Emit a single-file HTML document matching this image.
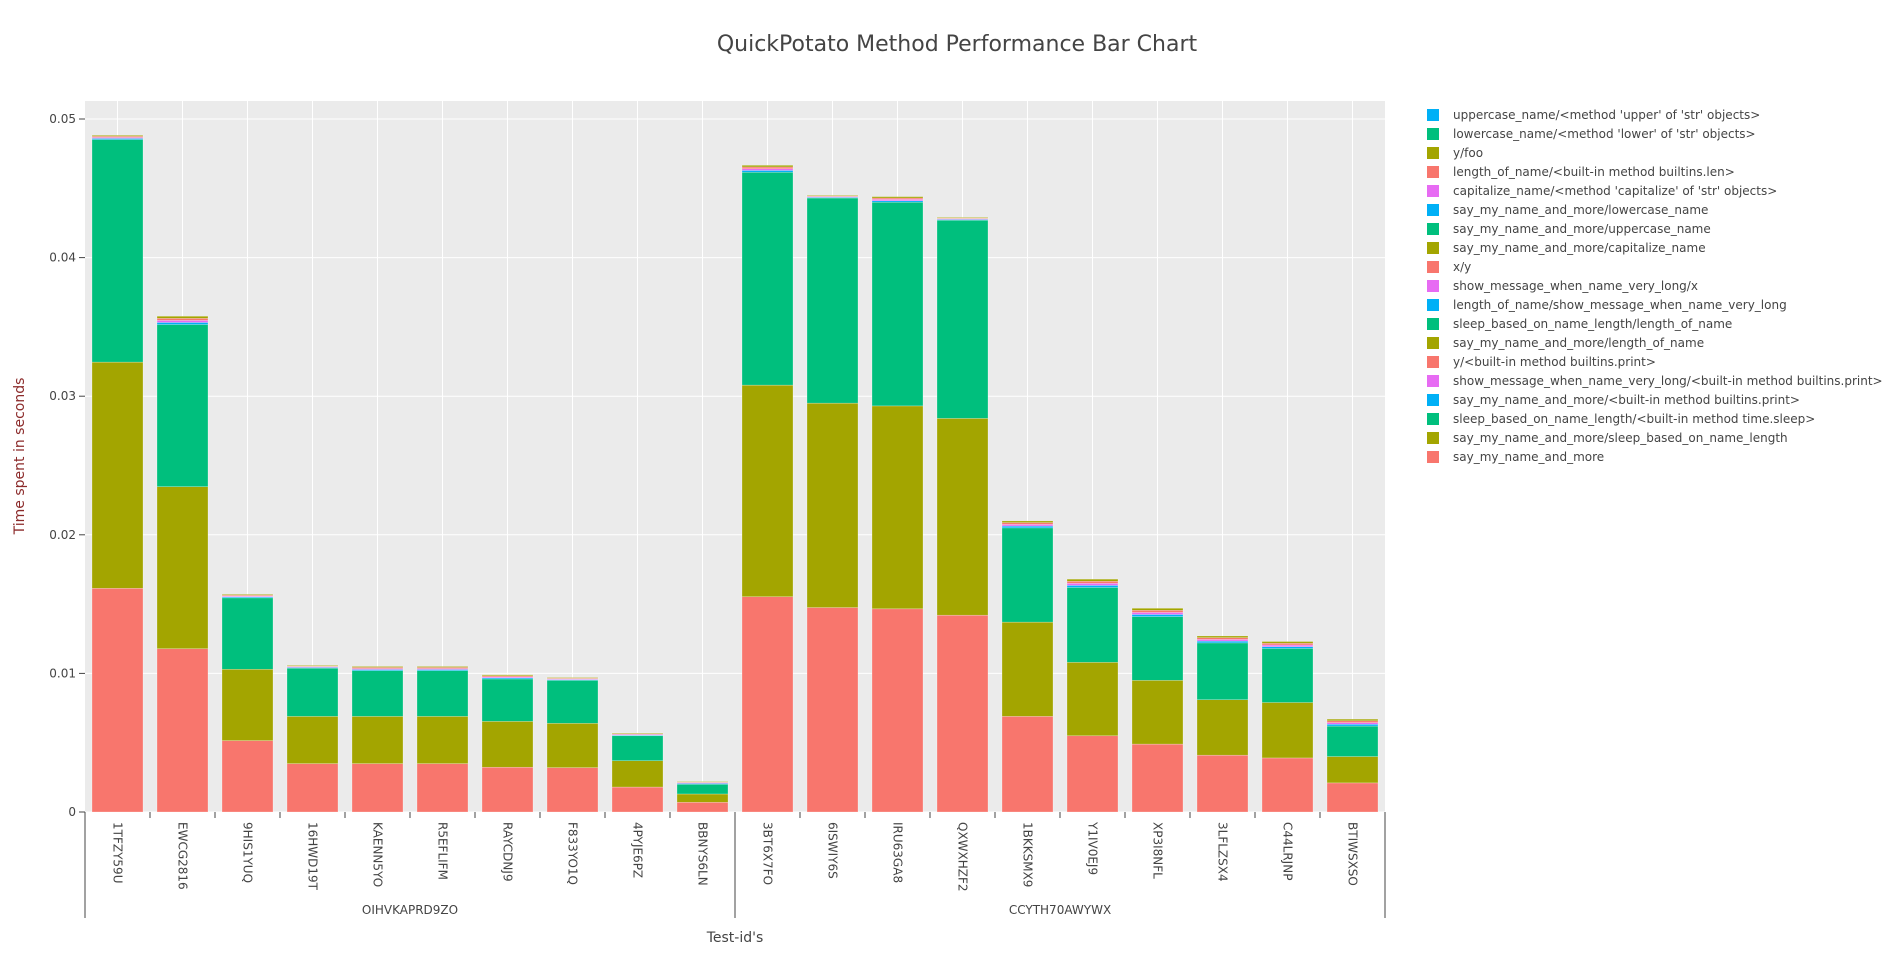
<!DOCTYPE html>
<html><head><meta charset="utf-8">
<style>
html,body{margin:0;padding:0;background:#fff;}
svg{display:block;font-family:"DejaVu Sans","Liberation Sans",sans-serif;}
</style></head>
<body>
<svg id="chart" width="1896" height="955" viewBox="0 0 1896 955">
<rect x="0" y="0" width="1896" height="955" fill="#fff"/>
<text x="957" y="51" text-anchor="middle" font-size="22" fill="#444">QuickPotato Method Performance Bar Chart</text>
<rect x="85" y="101" width="1300" height="711" fill="#EBEBEB"/>
<g id="grid"></g><g id="bars"></g><g id="axes"></g><g id="legend"></g>
<text transform="translate(24,456) rotate(-90)" text-anchor="middle" font-size="14" fill="#8B2A2A">Time spent in seconds</text>
<text x="735" y="942" text-anchor="middle" font-size="14" fill="#444">Test-id's</text>
</svg>
<script>
const categories = ["1TFZY59U","EWCG2816","9HIS1YUQ","16HWD19T","KAENN5YO","R5EFLIFM","RAYCDNJ9","F833YO1Q","4PYJE6PZ","BBNYS6LN","3BT6X7FO","6ISWIY6S","IRU63GA8","QXWXHZF2","1BKKSMX9","Y1IV0EJ9","XP3I8NFL","3LFLZSX4","C44LRJNP","BTIWSXSO"];
const groups = ["OIHVKAPRD9ZO","CCYTH70AWYWX"];
const groupSizes = [10,10];
const sayMyName = [0.01614,0.01178,0.00515,0.00349,0.00349,0.00349,0.00323,0.0032,0.0018,0.0007,0.01553,0.01475,0.01466,0.0142,0.0069,0.0055,0.0049,0.0041,0.0039,0.0021];
const sleepBased = [0.01632,0.01169,0.00515,0.00341,0.00341,0.00341,0.00331,0.0032,0.0019,0.0006,0.01527,0.01475,0.01464,0.0142,0.0068,0.0053,0.0046,0.004,0.004,0.0019];
const timeSleep = [0.01606,0.0117,0.00515,0.00348,0.0033,0.0033,0.00306,0.0031,0.0018,0.0007,0.01536,0.0148,0.0147,0.0143,0.0068,0.0054,0.0046,0.0041,0.0039,0.0022];
const tinyPrint = [0.00008,0.00015,0.00007,0.00005,0.00008,0.00008,0.00008,0.00005,0.00005,0.00006,0.00013,0.00005,0.0001,0.00005,0.00013,0.00015,0.00015,0.00013,0.00013,0.00013];
const tinyShow = [0.00007,0.00015,0.00006,0.00005,0.00007,0.00007,0.00007,0.00005,0.00005,0.00005,0.00012,0.00005,0.0001,0.00005,0.00012,0.00015,0.00015,0.00012,0.00012,0.00012];
const tinyYPrint = [0.00008,0.00015,0.00006,0.00005,0.00008,0.00008,0.00008,0.00005,0.00005,0.00005,0.00013,0.00005,0.0001,0.00005,0.00013,0.00015,0.00015,0.00013,0.00013,0.00013];
const tinyLength = [0.00007,0.00015,0.00006,0.00005,0.00007,0.00007,0.00007,0.00005,0.00005,0.00004,0.00012,0.00005,0.0001,0.00005,0.00012,0.00015,0.00015,0.00012,0.00012,0.00012];
const yTicks = [0,0.01,0.02,0.03,0.04,0.05];
const yTickLabels = ["0","0.01","0.02","0.03","0.04","0.05"];
const legendLabels = ["uppercase_name/<method 'upper' of 'str' objects>","lowercase_name/<method 'lower' of 'str' objects>","y/foo","length_of_name/<built-in method builtins.len>","capitalize_name/<method 'capitalize' of 'str' objects>","say_my_name_and_more/lowercase_name","say_my_name_and_more/uppercase_name","say_my_name_and_more/capitalize_name","x/y","show_message_when_name_very_long/x","length_of_name/show_message_when_name_very_long","sleep_based_on_name_length/length_of_name","say_my_name_and_more/length_of_name","y/<built-in method builtins.print>","show_message_when_name_very_long/<built-in method builtins.print>","say_my_name_and_more/<built-in method builtins.print>","sleep_based_on_name_length/<built-in method time.sleep>","say_my_name_and_more/sleep_based_on_name_length","say_my_name_and_more"];
const palette = ["#00B0F6","#00BF7D","#A3A500","#F8766D","#E76BF3"];

const NS = "http://www.w3.org/2000/svg";
const left = 85, bandW = 65, y0 = 812, pxPerUnit = 13860;
const xBand = i => left + i * bandW;
const yPos = v => y0 - v * pxPerUnit;
function mk(tag, attrs, parent) { const e = document.createElementNS(NS, tag); for (const k in attrs) e.setAttribute(k, attrs[k]); parent.appendChild(e); return e; }

const grid = document.getElementById('grid');
categories.forEach((c, i) => {
  const l = mk('line', {x1: xBand(i) + bandW/2, x2: xBand(i) + bandW/2, y1: 101, y2: 812, stroke: '#fff', 'stroke-width': 1}, grid);
  
  
});
yTicks.forEach(t => {
  const l = mk('line', {x1: 85, x2: 1385, y1: yPos(t), y2: yPos(t), stroke: '#fff', 'stroke-width': 1}, grid);
  
  
});

const series = [
  {name: 'say-my-name-and-more', vals: sayMyName, color: '#F8766D'},
  {name: 'sleep-based-on-name-length', vals: sleepBased, color: '#A3A500'},
  {name: 'time-sleep', vals: timeSleep, color: '#00BF7D'},
  {name: 'say-builtins-print', vals: tinyPrint, color: '#00B0F6'},
  {name: 'show-message-print', vals: tinyShow, color: '#E76BF3'},
  {name: 'y-print', vals: tinyYPrint, color: '#F8766D'},
  {name: 'say-length-of-name', vals: tinyLength, color: '#A3A500'}
];
const bars = document.getElementById('bars');
categories.forEach((c, i) => {
  let base = 0;
  series.forEach(s => {
    const v = s.vals[i];
    const r = mk('rect', {x: xBand(i) + 7, width: bandW - 14, y: yPos(base + v), height: Math.max(v * pxPerUnit, 0.5), fill: s.color, stroke: 'rgba(255,255,255,0.5)', 'stroke-width': 0.5}, bars);
    
    
    base += v;
  });
});

const axes = document.getElementById('axes');
yTicks.forEach((t, k) => {
  mk('line', {x1: 79, x2: 85, y1: yPos(t), y2: yPos(t), stroke: '#444'}, axes);
  const tx = mk('text', {x: 76, y: yPos(t) + 4, 'text-anchor': 'end', 'font-size': 12, fill: '#444'}, axes);
  tx.textContent = yTickLabels[k];
  
  
});
categories.forEach((c, i) => {
  mk('line', {x1: xBand(i), x2: xBand(i), y1: 812, y2: 818, stroke: '#444'}, axes);
  const cx = xBand(i) + bandW/2;
  const tx = mk('text', {transform: 'translate(' + (cx - 4) + ',822) rotate(90)', 'font-size': 12, fill: '#444'}, axes);
  tx.textContent = c;
  
  
});
let gi = 0;
groups.forEach((g, k) => {
  const x1 = xBand(gi), x2 = xBand(gi + groupSizes[k]);
  mk('line', {x1: x1, x2: x1, y1: 812, y2: 918, stroke: '#444'}, axes);
  if (k === groups.length - 1) mk('line', {x1: x2, x2: x2, y1: 812, y2: 918, stroke: '#444'}, axes);
  const tx = mk('text', {x: (x1 + x2)/2, y: 914, 'text-anchor': 'middle', 'font-size': 12, fill: '#444'}, axes);
  tx.textContent = g;
  
  
  gi += groupSizes[k];
});

const legend = document.getElementById('legend');
legendLabels.forEach((lab, i) => {
  const y = 115 + i * 19;
  const g = mk('g', {}, legend);
  
  
  mk('rect', {x: 1427, y: y - 6, width: 12, height: 12, fill: palette[i % 5]}, g);
  const tx = mk('text', {x: 1453, y: y + 4, 'font-size': 12, fill: '#444'}, g);
  tx.textContent = lab;
});
</script>
</body></html>
